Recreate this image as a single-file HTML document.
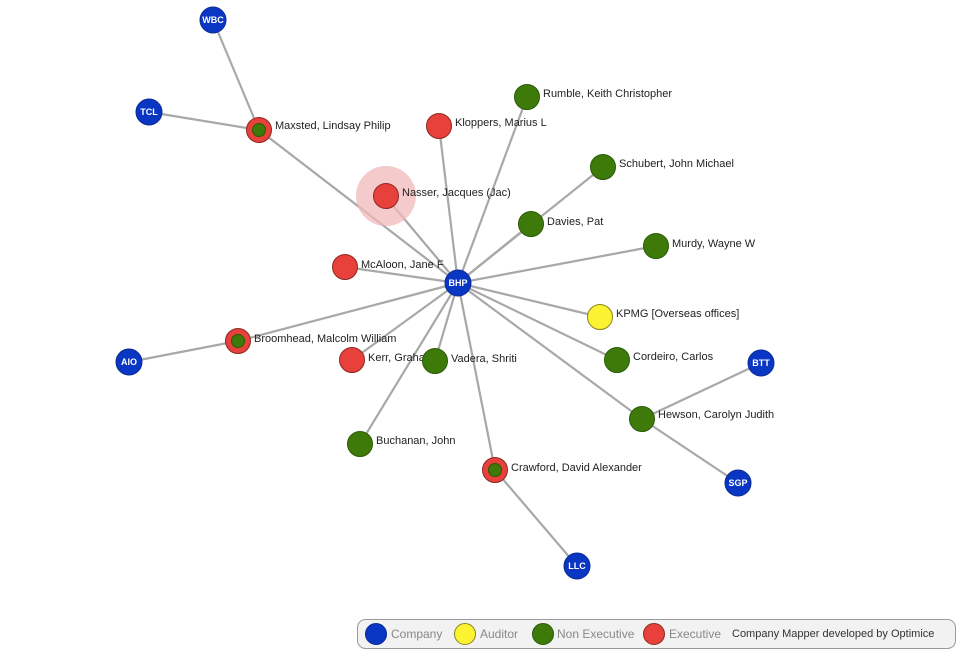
<!DOCTYPE html>
<html><head><meta charset="utf-8"><style>
html,body{margin:0;padding:0;background:#fff;width:965px;height:658px;overflow:hidden}
svg text{font-family:"Liberation Sans",Arial,sans-serif}
.l{font-size:11px;fill:#222}
.c{font-size:9px;fill:#fff;font-weight:bold;text-anchor:middle}
</style></head><body>
<svg width="965" height="658" viewBox="0 0 965 658" xmlns="http://www.w3.org/2000/svg">
<g stroke="#a8a8a8" stroke-width="2.2">
<line x1="213" y1="20" x2="259" y2="130"/>
<line x1="149" y1="112" x2="259" y2="130"/>
<line x1="259" y1="130" x2="458" y2="283"/>
<line x1="439" y1="126" x2="458" y2="283"/>
<line x1="527" y1="97" x2="458" y2="283"/>
<line x1="603" y1="167" x2="458" y2="283"/>
<line x1="385" y1="196" x2="458" y2="283"/>
<line x1="531" y1="224" x2="458" y2="283"/>
<line x1="656" y1="246" x2="458" y2="283"/>
<line x1="345" y1="267" x2="458" y2="283"/>
<line x1="600" y1="317" x2="458" y2="283"/>
<line x1="238" y1="341" x2="458" y2="283"/>
<line x1="129" y1="362" x2="238" y2="341"/>
<line x1="352" y1="360" x2="458" y2="283"/>
<line x1="435" y1="361" x2="458" y2="283"/>
<line x1="617" y1="360" x2="458" y2="283"/>
<line x1="642" y1="419" x2="458" y2="283"/>
<line x1="642" y1="419" x2="761" y2="363"/>
<line x1="642" y1="419" x2="738" y2="483"/>
<line x1="360" y1="444" x2="458" y2="283"/>
<line x1="495" y1="470" x2="458" y2="283"/>
<line x1="495" y1="470" x2="577" y2="566"/>
</g>
<circle cx="386" cy="196" r="30" fill="#f0b8b8" opacity="0.75"/>
<g stroke-width="1">
<circle cx="213" cy="20" r="13" fill="#0a36c4" stroke="#0a2a90"/><text class="c" x="213" y="23">WBC</text>
<circle cx="149" cy="112" r="13" fill="#0a36c4" stroke="#0a2a90"/><text class="c" x="149" y="115">TCL</text>
<circle cx="129" cy="362" r="13" fill="#0a36c4" stroke="#0a2a90"/><text class="c" x="129" y="365">AIO</text>
<circle cx="761" cy="363" r="13" fill="#0a36c4" stroke="#0a2a90"/><text class="c" x="761" y="366">BTT</text>
<circle cx="738" cy="483" r="13" fill="#0a36c4" stroke="#0a2a90"/><text class="c" x="738" y="486">SGP</text>
<circle cx="577" cy="566" r="13" fill="#0a36c4" stroke="#0a2a90"/><text class="c" x="577" y="569">LLC</text>

<circle cx="259" cy="130" r="12.5" fill="#e8403a" stroke="#8a2a24"/><circle cx="259" cy="130" r="6.5" fill="#3d7a0a" stroke="#2a5a05"/>
<text class="l" x="275" y="129">Maxsted, Lindsay Philip</text>
<circle cx="439" cy="126" r="12.5" fill="#e8403a" stroke="#8a2a24"/><text class="l" x="455" y="126">Kloppers, Marius L</text>
<circle cx="527" cy="97" r="12.5" fill="#3d7a0a" stroke="#2a5a05"/><text class="l" x="543" y="97">Rumble, Keith Christopher</text>
<circle cx="603" cy="167" r="12.5" fill="#3d7a0a" stroke="#2a5a05"/><text class="l" x="619" y="167">Schubert, John Michael</text>
<circle cx="386" cy="196" r="12.5" fill="#e8403a" stroke="#8a2a24"/><text class="l" x="402" y="196">Nasser, Jacques (Jac)</text>
<circle cx="531" cy="224" r="12.5" fill="#3d7a0a" stroke="#2a5a05"/><text class="l" x="547" y="225">Davies, Pat</text>
<circle cx="656" cy="246" r="12.5" fill="#3d7a0a" stroke="#2a5a05"/><text class="l" x="672" y="247">Murdy, Wayne W</text>
<circle cx="345" cy="267" r="12.5" fill="#e8403a" stroke="#8a2a24"/><text class="l" x="361" y="268">McAloon, Jane F</text>
<circle cx="458" cy="283" r="13" fill="#0a36c4" stroke="#0a2a90"/><text class="c" x="458" y="286">BHP</text>
<circle cx="600" cy="317" r="12.5" fill="#fbf232" stroke="#8a8420"/><text class="l" x="616" y="317">KPMG [Overseas offices]</text>
<circle cx="238" cy="341" r="12.5" fill="#e8403a" stroke="#8a2a24"/><circle cx="238" cy="341" r="6.5" fill="#3d7a0a" stroke="#2a5a05"/>
<text class="l" x="254" y="342">Broomhead, Malcolm William</text>
<circle cx="352" cy="360" r="12.5" fill="#e8403a" stroke="#8a2a24"/><text class="l" x="368" y="361">Kerr, Graham</text>
<circle cx="435" cy="361" r="12.5" fill="#3d7a0a" stroke="#2a5a05"/><text class="l" x="451" y="362">Vadera, Shriti</text>
<circle cx="617" cy="360" r="12.5" fill="#3d7a0a" stroke="#2a5a05"/><text class="l" x="633" y="360">Cordeiro, Carlos</text>
<circle cx="642" cy="419" r="12.5" fill="#3d7a0a" stroke="#2a5a05"/><text class="l" x="658" y="418">Hewson, Carolyn Judith</text>
<circle cx="360" cy="444" r="12.5" fill="#3d7a0a" stroke="#2a5a05"/><text class="l" x="376" y="444">Buchanan, John</text>
<circle cx="495" cy="470" r="12.5" fill="#e8403a" stroke="#8a2a24"/><circle cx="495" cy="470" r="6.5" fill="#3d7a0a" stroke="#2a5a05"/>
<text class="l" x="511" y="471">Crawford, David Alexander</text>
</g>
<rect x="357.5" y="619.5" width="598" height="29" rx="8" fill="#f2f2f2" stroke="#9a9a9a"/>
<circle cx="376" cy="634" r="10.5" fill="#0a36c4" stroke="#0a2a90"/>
<text x="391" y="638" font-size="12" fill="#888">Company</text>
<circle cx="465" cy="634" r="10.5" fill="#fbf232" stroke="#8a8420"/>
<text x="480" y="638" font-size="12" fill="#888">Auditor</text>
<circle cx="543" cy="634" r="10.5" fill="#3d7a0a" stroke="#2a5a05"/>
<text x="557" y="638" font-size="12" fill="#888">Non Executive</text>
<circle cx="654" cy="634" r="10.5" fill="#e8403a" stroke="#8a2a24"/>
<text x="669" y="638" font-size="12" fill="#888">Executive</text>
<text x="732" y="637" font-size="11" fill="#333">Company Mapper developed by Optimice</text>
</svg>
</body></html>
